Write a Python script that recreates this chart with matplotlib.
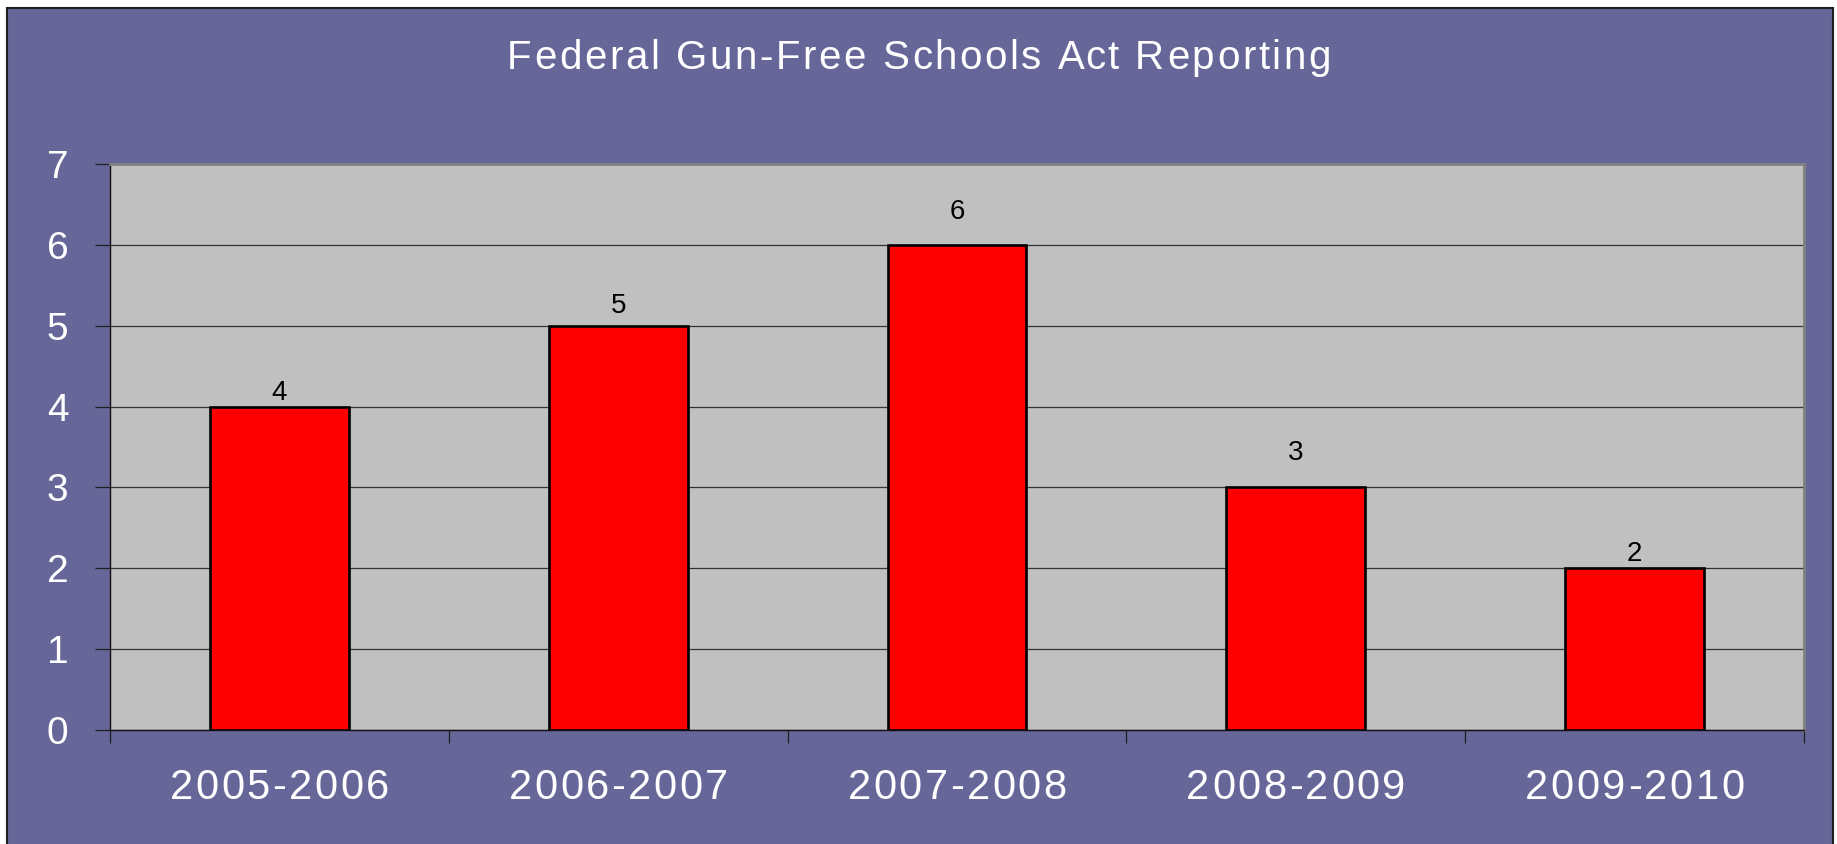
import numpy as np
import matplotlib
matplotlib.use('Agg')
from matplotlib import pyplot as plt
from matplotlib.patches import Rectangle
from matplotlib.font_manager import FontProperties
import matplotlib.transforms as tx

plt.rcParams['font.family'] = ['Liberation Sans', 'DejaVu Sans']

# data
seasons = ['2005-2006', '2006-2007', '2007-2008', '2008-2009', '2009-2010']
incidents = [4, 5, 6, 3, 2]
y_ticks = [0, 1, 2, 3, 4, 5, 6, 7]
title = 'Federal Gun-Free Schools Act Reporting'

# Excel put the value labels at uneven heights above the bars (points)
label_pad = [10, 14, 24, 25, 10]

BG = '#666699'
PLOT_BG = '#C0C0C0'

W, H = 1837, 844
fig = plt.figure(figsize=(W / 100, H / 100), dpi=100, facecolor='white')
renderer = fig.canvas.get_renderer()


def spaced_text(x, y, s, size, spacing, transform, **kw):
    """Centered text with extra letter spacing (pixels), like Excel."""
    prop = FontProperties(family=['Liberation Sans'], size=size)

    def width(t):
        return renderer.get_text_width_height_descent(t, prop, ismath=False)[0]

    bar_w = width('|')
    offs = [width(s[:i] + '|') - bar_w if i else 0.0 for i in range(len(s))]
    offs = [o + i * spacing for i, o in enumerate(offs)]
    total = offs[-1] + width(s[-1])
    for ch, o in zip(s, offs):
        if ch == ' ':
            continue
        t = tx.offset_copy(transform, fig=fig, x=(o - total / 2) * 72 / 100,
                           y=0, units='points')
        fig.text(x, y, ch, transform=t, fontproperties=prop,
                 ha='left', va='center', **kw)


# purple chart area with a dark frame, small white margin top/left
# (runs past the bottom edge so no frame line shows there)
fig.patches.append(Rectangle((7 / W, -0.02), (1833 - 7) / W, (H - 8) / H + 0.02,
                             transform=fig.transFigure, facecolor=BG,
                             edgecolor='#202020', lw=1.5, zorder=-1))

ax = fig.add_axes([110 / W, (H - 730) / H, (1804 - 110) / W, (730 - 164) / H])
ax.set_facecolor(PLOT_BG)

x = np.arange(len(seasons))
ax.bar(x, incidents, width=0.41, color='#FF0000', edgecolor='black',
       lw=1.9, zorder=3)

for xi, v, pad in zip(x, incidents, label_pad):
    ax.annotate(str(v), (xi, v), xytext=(0, pad), textcoords='offset points',
                ha='center', va='center', fontsize=20, color='black')

ax.set_xlim(-0.5, len(seasons) - 0.5)
ax.set_ylim(0, 7)
ax.set_yticks(y_ticks)
ax.set_yticklabels([str(t) for t in y_ticks])
ax.yaxis.grid(True, color='#333333', lw=0.9)
ax.set_axisbelow(True)

# category labels drawn letter-spaced below the axis
ax.set_xticks([])
ax.set_xticks(np.arange(len(seasons) + 1) - 0.5, minor=True)
ax.tick_params(axis='x', which='minor', length=9.5, width=0.9,
               color='#202020', direction='out', labelbottom=False)
ax.tick_params(axis='y', length=11, width=0.9, color='#202020', pad=19,
               labelsize=28, labelcolor='white')
label_tr = tx.blended_transform_factory(ax.transData, fig.transFigure)
for xi, name in zip(x, seasons):
    spaced_text(xi, 1 - 788 / H, name, 30, 2.5, label_tr, color='white')

for s in ['left', 'bottom']:
    ax.spines[s].set_color('#101010')
    ax.spines[s].set_linewidth(1)
for s in ['top', 'right']:
    ax.spines[s].set_color('#808080')
    ax.spines[s].set_linewidth(2)

spaced_text(919 / W, 1 - 58 / H, title, 29, 2.6, fig.transFigure,
            color='white')

fig.savefig('out.png', dpi=100, facecolor='white')
